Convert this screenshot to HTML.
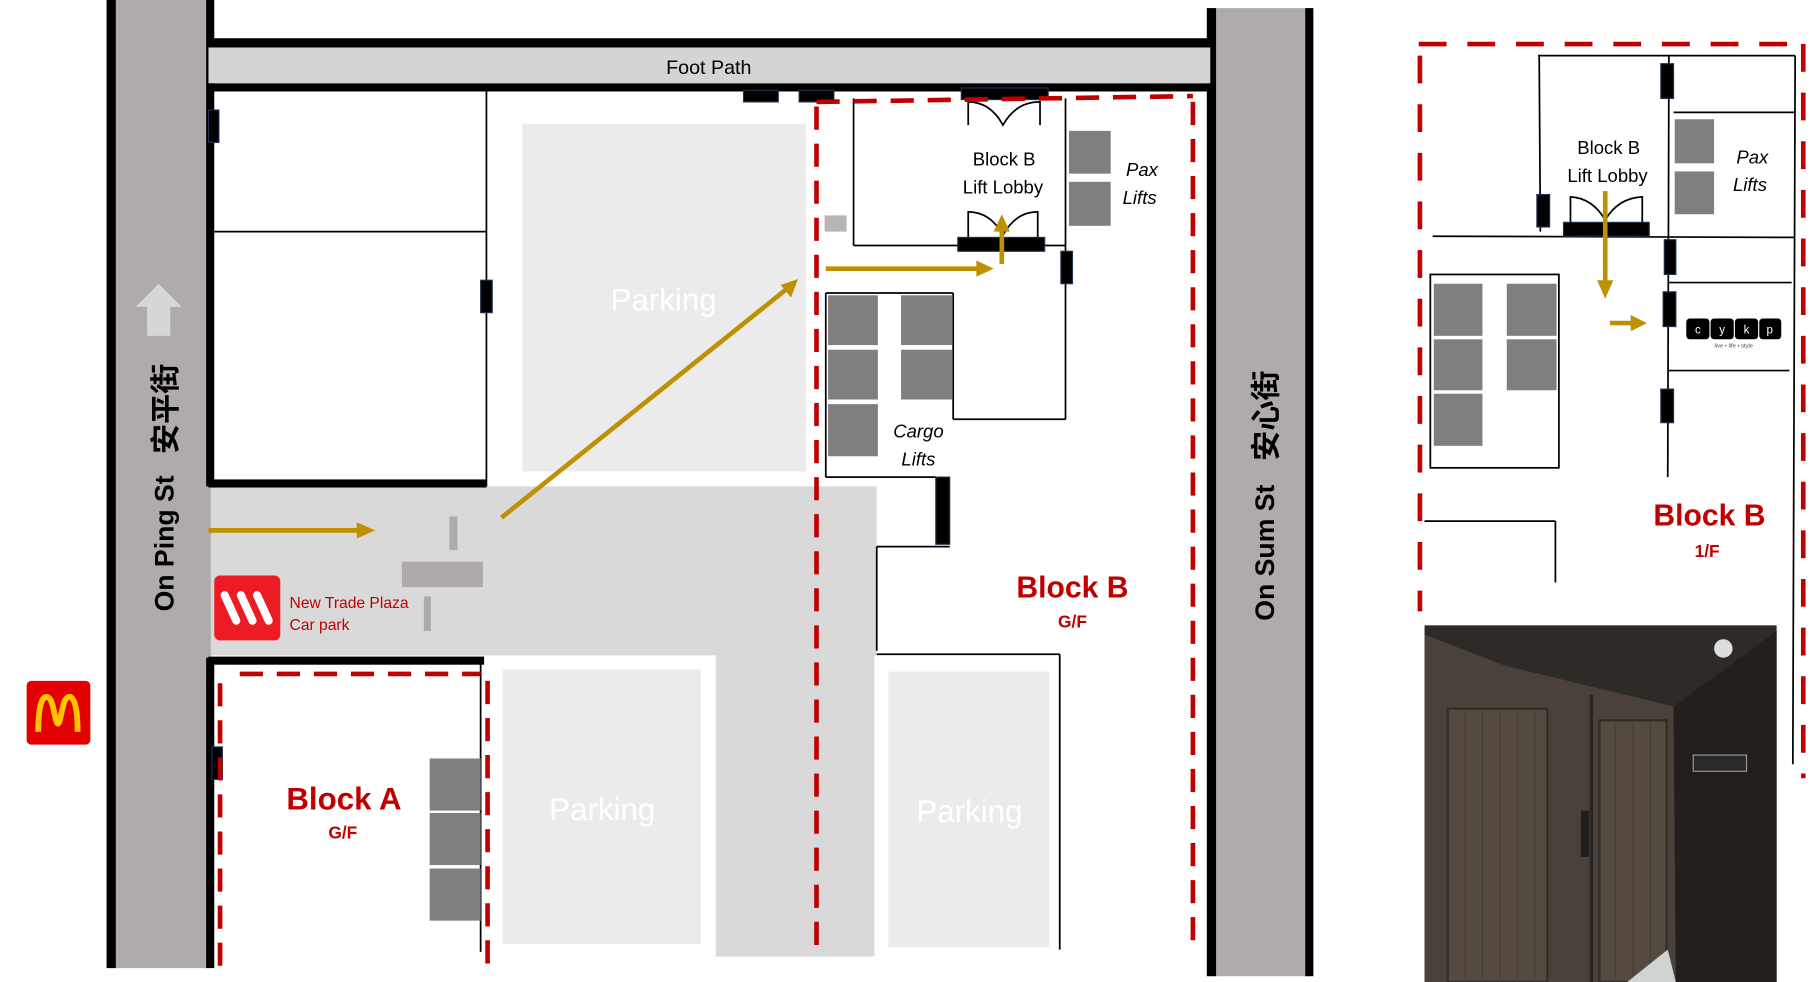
<!DOCTYPE html>
<html><head><meta charset="utf-8"><style>html,body{margin:0;padding:0;background:#fff;overflow:hidden}svg{display:block}</style></head>
<body>
<svg width="1816" height="982" viewBox="0 0 1568 848" preserveAspectRatio="none" xmlns="http://www.w3.org/2000/svg" font-family="'Liberation Sans','Noto Sans CJK SC',sans-serif">
<rect width="1568" height="848" fill="#fff"/>
<rect x="180" y="420" width="577" height="146" fill="#d9d9d9"/>
<rect x="618" y="560" width="137" height="266" fill="#d9d9d9"/>
<rect x="96" y="0" width="86" height="836" fill="#afabab"/>
<rect x="92" y="0" width="8" height="836" fill="#000"/>
<rect x="178" y="0" width="7" height="420" fill="#000"/>
<rect x="178" y="568" width="7" height="268" fill="#000"/>
<polygon points="137,245 157,265 147,265 147,290 127,290 127,265 117,265" fill="#d6d6d6"/>
<text transform="translate(150,528) rotate(-90)" font-size="23" font-weight="bold" fill="#000">On Ping St</text>
<text transform="translate(152,392) rotate(-90)" font-size="26" font-weight="bold" fill="#000">安平街</text>
<rect x="1045" y="7" width="86" height="836" fill="#afabab"/>
<rect x="1042" y="7" width="8" height="836" fill="#000"/>
<rect x="1127" y="7" width="7" height="836" fill="#000"/>
<text transform="translate(1100,536) rotate(-90)" font-size="23" font-weight="bold" fill="#000">On Sum St</text>
<text transform="translate(1102,398) rotate(-90)" font-size="26" font-weight="bold" fill="#000">安心街</text>
<rect x="180" y="33" width="865" height="8" fill="#000"/>
<rect x="180" y="41" width="865" height="31" fill="#d4d4d4"/>
<rect x="180" y="72" width="865" height="7" fill="#000"/>
<text x="612" y="64" font-size="17" text-anchor="middle" fill="#000">Foot Path</text>
<line x1="420" y1="78" x2="420" y2="420" stroke="#000" stroke-width="1.5"/>
<line x1="185" y1="200" x2="420" y2="200" stroke="#000" stroke-width="1.5"/>
<rect x="180" y="414" width="240" height="7" fill="#000"/>
<rect x="415" y="242" width="10" height="28" fill="#000" stroke="#1f3050"/>
<rect x="180" y="95" width="9" height="28" fill="#000" stroke="#1f3050"/>
<rect x="451" y="107" width="245" height="300" fill="#ebebeb"/>
<text x="573" y="268" font-size="27" text-anchor="middle" fill="#fff">Parking</text>
<rect x="388" y="446" width="7" height="29" fill="#aeaaaa"/>
<rect x="347" y="485" width="70" height="22" fill="#aeaaaa"/>
<rect x="366" y="515" width="6" height="30" fill="#aeaaaa"/>
<line x1="180" y1="458" x2="310" y2="458" stroke="#bf9000" stroke-width="4"/>
<polygon points="308,451 324,458 308,465" fill="#bf9000"/>
<line x1="433" y1="447" x2="680" y2="249" stroke="#bf9000" stroke-width="4"/>
<polygon points="689,241 683,257 674,246" fill="#bf9000"/>
<rect x="185" y="497" width="57" height="56" rx="5" fill="#ed1c24"/>
<g stroke="#fff" stroke-width="7" stroke-linecap="round"><line x1="194" y1="514" x2="204" y2="536"/><line x1="208" y1="514" x2="218" y2="536"/><line x1="222" y1="514" x2="232" y2="536"/></g>
<text x="250" y="525" font-size="13.5" fill="#c00000">New Trade Plaza</text>
<text x="250" y="544" font-size="13.5" fill="#c00000">Car park</text>
<rect x="23" y="588" width="55" height="55" rx="4" fill="#e30000"/>
<path d="M33,632 C33,600 40,598 44,605 C47,612 48,625 50,625 C52,625 53,612 56,605 C60,598 67,600 67,632" fill="none" stroke="#ffc300" stroke-width="5"/>
<rect x="180" y="567" width="238" height="7" fill="#000"/>
<line x1="415" y1="573" x2="415" y2="822" stroke="#000" stroke-width="1.5"/>
<rect x="183" y="645" width="9" height="28" fill="#000" stroke="#1f3050"/>
<g fill="none" stroke="#c00000" stroke-width="4" stroke-dasharray="20,12">
<line x1="207" y1="582" x2="415" y2="582"/>
<line x1="190" y1="590" x2="190" y2="835"/>
<line x1="421" y1="588" x2="421" y2="840"/>
</g>
<g fill="#7f7f7f"><rect x="371" y="655" width="44" height="45"/><rect x="371" y="702" width="44" height="45"/><rect x="371" y="750" width="44" height="45"/></g>
<text x="297" y="699" font-size="27" font-weight="bold" text-anchor="middle" fill="#c00000">Block A</text>
<text x="296" y="724" font-size="15" font-weight="bold" text-anchor="middle" fill="#c00000">G/F</text>
<rect x="434" y="578" width="171" height="237" fill="#ebebeb"/>
<text x="520" y="708" font-size="27" text-anchor="middle" fill="#fff">Parking</text>
<rect x="767" y="580" width="139" height="238" fill="#ebebeb"/>
<text x="837" y="710" font-size="27" text-anchor="middle" fill="#fff">Parking</text>
<line x1="915" y1="565" x2="915" y2="820" stroke="#000" stroke-width="1.5"/>
<g stroke="#000" stroke-width="1.5" fill="none">
<line x1="737" y1="85" x2="737" y2="212"/><line x1="737" y1="212" x2="920" y2="212"/><line x1="920" y1="85" x2="920" y2="362"/>
<line x1="713" y1="253" x2="823" y2="253"/><line x1="823" y1="253" x2="823" y2="362"/><line x1="823" y1="362" x2="920" y2="362"/>
<line x1="713" y1="253" x2="713" y2="412"/>
<line x1="713" y1="412" x2="808" y2="412"/><line x1="757" y1="472" x2="820" y2="472"/><line x1="757" y1="472" x2="757" y2="562"/><line x1="757" y1="565" x2="915" y2="565"/>
<path d="M836,108 L836,88 Q855,88 866,108 Q877,88 898,88 L898,108"/>
<path d="M836,205 L836,183 Q855,183 866,203 Q877,183 896,183 L896,205"/>
</g>
<rect x="712" y="186" width="19" height="14" fill="#b8b4b4"/>
<rect x="642" y="78" width="30" height="10" fill="#000" stroke="#1f3050"/>
<rect x="690" y="78" width="30" height="10" fill="#000" stroke="#1f3050"/>
<rect x="830" y="76" width="75" height="10" fill="#000" stroke="#1f3050"/>
<rect x="827" y="205" width="75" height="12" fill="#000" stroke="#1f3050"/>
<rect x="916" y="217" width="10" height="28" fill="#000" stroke="#1f3050"/>
<rect x="808" y="412" width="12" height="58" fill="#000" stroke="#1f3050"/>
<g fill="none" stroke="#c00000" stroke-width="4" stroke-dasharray="20,12">
<line x1="705" y1="88" x2="1030" y2="83"/>
<line x1="705" y1="92" x2="705" y2="822"/>
<line x1="1030" y1="88" x2="1030" y2="812"/>
</g>
<g fill="#7f7f7f"><rect x="923" y="113" width="36" height="37"/><rect x="923" y="157" width="36" height="38"/>
<rect x="715" y="255" width="43" height="43"/><rect x="715" y="302" width="43" height="43"/><rect x="715" y="349" width="43" height="45"/>
<rect x="778" y="255" width="44" height="43"/><rect x="778" y="302" width="44" height="43"/></g>
<line x1="865" y1="228" x2="865" y2="198" stroke="#bf9000" stroke-width="4"/><polygon points="858,200 865,185 872,200" fill="#bf9000"/>
<line x1="713" y1="232" x2="845" y2="232" stroke="#bf9000" stroke-width="4"/><polygon points="843,225 858,232 843,239" fill="#bf9000"/>
<text x="867" y="143" font-size="16" text-anchor="middle" fill="#000">Block B</text>
<text x="866" y="167" font-size="16" text-anchor="middle" fill="#000">Lift Lobby</text>
<text x="986" y="152" font-size="16" font-style="italic" text-anchor="middle" fill="#000">Pax</text>
<text x="984" y="176" font-size="16" font-style="italic" text-anchor="middle" fill="#000">Lifts</text>
<text x="793" y="378" font-size="16" font-style="italic" text-anchor="middle" fill="#000">Cargo</text>
<text x="793" y="402" font-size="16" font-style="italic" text-anchor="middle" fill="#000">Lifts</text>
<text x="926" y="516" font-size="26" font-weight="bold" text-anchor="middle" fill="#c00000">Block B</text>
<text x="926" y="542" font-size="15" font-weight="bold" text-anchor="middle" fill="#c00000">G/F</text>
<g stroke="#000" stroke-width="1.5" fill="none">
<line x1="1328" y1="48" x2="1550" y2="48"/><line x1="1329" y1="48" x2="1330" y2="200"/><line x1="1550" y1="48" x2="1548" y2="660"/>
<line x1="1441" y1="48" x2="1440" y2="412"/><line x1="1445" y1="97" x2="1550" y2="97"/>
<line x1="1237" y1="204" x2="1550" y2="205"/><line x1="1441" y1="244" x2="1547" y2="244"/><line x1="1440" y1="320" x2="1545" y2="320"/>
<rect x="1235" y="237" width="111" height="167"/>
<line x1="1230" y1="450" x2="1343" y2="450"/><line x1="1343" y1="450" x2="1343" y2="503"/>
<path d="M1356,192 L1356,170 Q1375,171 1386,190 Q1397,171 1418,170 L1418,192"/>
</g>
<g fill="#7f7f7f"><rect x="1238" y="245" width="42" height="45"/><rect x="1238" y="293" width="42" height="44"/><rect x="1238" y="340" width="42" height="45"/>
<rect x="1301" y="245" width="43" height="45"/><rect x="1301" y="293" width="43" height="44"/>
<rect x="1446" y="103" width="34" height="38"/><rect x="1446" y="148" width="34" height="37"/></g>
<g fill="#000" stroke="#1f3050"><rect x="1434" y="55" width="11" height="30"/><rect x="1327" y="168" width="11" height="28"/><rect x="1350" y="192" width="74" height="12"/>
<rect x="1437" y="207" width="10" height="30"/><rect x="1436" y="252" width="11" height="30"/><rect x="1434" y="336" width="11" height="29"/></g>
<g fill="none" stroke="#c00000" stroke-width="4" stroke-dasharray="24,18">
<line x1="1225" y1="38" x2="1557" y2="38"/>
<line x1="1226" y1="48" x2="1226" y2="528"/>
<line x1="1557" y1="38" x2="1557" y2="672"/>
</g>
<line x1="1386" y1="165" x2="1386" y2="245" stroke="#bf9000" stroke-width="4"/><polygon points="1379,242 1386,258 1393,242" fill="#bf9000"/>
<line x1="1390" y1="279" x2="1410" y2="279" stroke="#bf9000" stroke-width="4"/><polygon points="1408,272 1422,279 1408,286" fill="#bf9000"/>
<g font-size="10" fill="#fff" text-anchor="middle">
<rect x="1456" y="275" width="20" height="18" rx="3" fill="#000"/><text x="1466" y="288">c</text>
<rect x="1477" y="275" width="20" height="18" rx="3" fill="#000"/><text x="1487" y="288">y</text>
<rect x="1498" y="275" width="20" height="18" rx="3" fill="#000"/><text x="1508" y="288">k</text>
<rect x="1519" y="275" width="19" height="18" rx="3" fill="#000"/><text x="1528" y="288">p</text>
</g>
<text x="1497" y="300" font-size="5" text-anchor="middle" fill="#444">live • life • style</text>
<text x="1389" y="133" font-size="16" text-anchor="middle" fill="#000">Block B</text>
<text x="1388" y="157" font-size="16" text-anchor="middle" fill="#000">Lift Lobby</text>
<text x="1513" y="141" font-size="16" font-style="italic" text-anchor="middle" fill="#000">Pax</text>
<text x="1511" y="165" font-size="16" font-style="italic" text-anchor="middle" fill="#000">Lifts</text>
<text x="1476" y="454" font-size="26" font-weight="bold" text-anchor="middle" fill="#c00000">Block B</text>
<text x="1474" y="481" font-size="15" font-weight="bold" text-anchor="middle" fill="#c00000">1/F</text>
<!-- photo -->
<rect x="1230" y="540" width="304" height="308" fill="#2e2a26"/>
<polygon points="1230,548 1300,575 1445,610 1447,848 1230,848" fill="#4a423a"/>
<polygon points="1445,610 1534,545 1534,848 1447,848" fill="#221f1c"/>
<g stroke="#332d27" stroke-width="2" fill="#554a40">
<rect x="1250" y="612" width="86" height="236"/>
<rect x="1381" y="622" width="58" height="226"/>
</g>
<line x1="1374" y1="600" x2="1374" y2="848" stroke="#2a2521" stroke-width="3"/>
<g stroke="#463d35" stroke-width="1">
<line x1="1265" y1="615" x2="1265" y2="848"/><line x1="1280" y1="615" x2="1280" y2="848"/><line x1="1295" y1="615" x2="1295" y2="848"/><line x1="1310" y1="615" x2="1310" y2="848"/><line x1="1325" y1="615" x2="1325" y2="848"/>
<line x1="1395" y1="625" x2="1395" y2="848"/><line x1="1410" y1="625" x2="1410" y2="848"/><line x1="1425" y1="625" x2="1425" y2="848"/>
</g>
<rect x="1365" y="700" width="7" height="40" fill="#1e1e1e"/>
<rect x="1462" y="652" width="46" height="14" fill="#2a2a2a" stroke="#999"/>
<circle cx="1488" cy="560" r="8" fill="#ddd"/>
<polygon points="1405,848 1440,820 1447,848" fill="#cfd3d2"/>
</svg>
</body></html>
